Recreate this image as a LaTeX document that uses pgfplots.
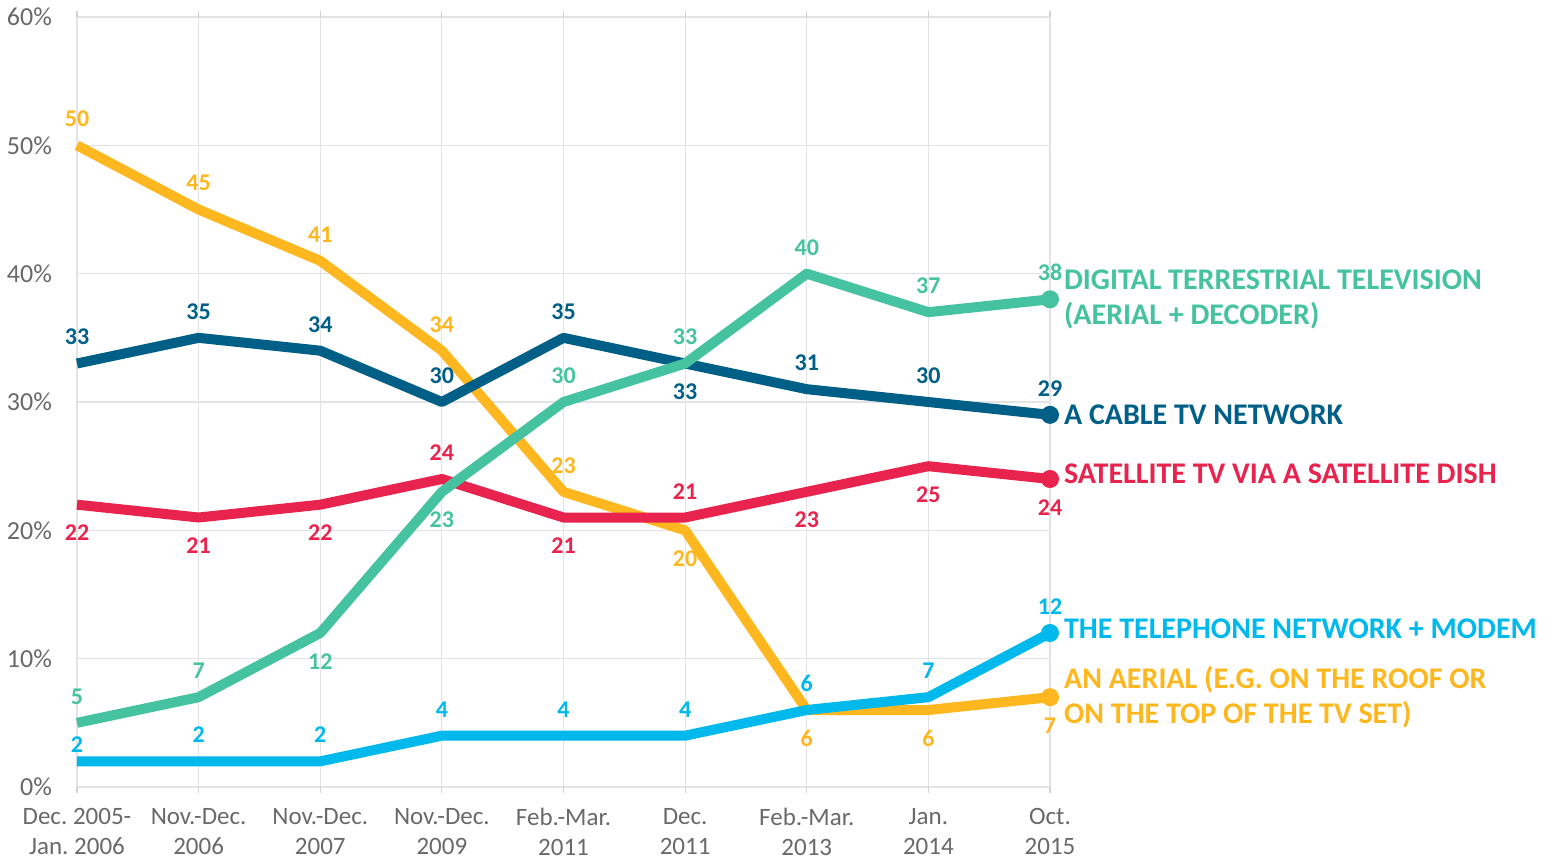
\documentclass[border=0pt]{standalone}
\usepackage{fontspec}
\setmainfont{Carlito}
\usepackage{pgfplots}
\pgfplotsset{compat=1.18}

\definecolor{aerial}{RGB}{254,183,30}
\definecolor{cable}{RGB}{0,95,135}
\definecolor{dtt}{RGB}{69,195,160}
\definecolor{sat}{RGB}{232,35,78}
\definecolor{tel}{RGB}{0,185,236}
\definecolor{tickgray}{RGB}{105,105,105}

\pgfplotsset{
  series/.style={line width=5pt, line join=round, mark=*, mark indices={9},
    mark size=4pt, mark options={solid, line width=1pt}},
  lbl/.style={draw=none, mark=none, nodes near coords,
    every node near coord/.append style={text=#1,
      font=\fontsize{12}{12}\selectfont\bfseries, inner sep=1pt}},
  lblup/.style={lbl=#1, every node near coord/.append style={anchor=south, yshift=8pt}},
  lbldn/.style={lbl=#1, every node near coord/.append style={anchor=north, yshift=-9pt}},
}
\tikzset{
  endlbl/.style={anchor=west, xshift=3.5pt, align=left, text=#1,
    font=\fontsize{15}{17.5}\selectfont\bfseries},
}

\begin{document}
\frenchspacing
\begin{tikzpicture}
% page frame in the reference proportions (axis box sits at the origin)
\useasboundingbox (-38.5pt,-36pt) rectangle (740.5pt,393.5pt);
\begin{axis}[
  scale only axis,
  width=486.5pt, height=385pt,
  xmin=0, xmax=8, ymin=0, ymax=60,
  clip=false,
  axis line style={draw=none},
  grid=major,
  major grid style={draw=gray!22, line width=0.6pt},
  xtick={0,...,8},
  xticklabels={{Dec.\ 2005-\\Jan.\ 2006},{Nov.-Dec.\\2006},{Nov.-Dec.\\2007},
    {Nov.-Dec.\\2009},{Feb.-Mar.\\2011},{Dec.\\2011},{Feb.-Mar.\\2013},
    {Jan.\\2014},{Oct.\\2015}},
  xticklabel style={align=center, text=tickgray,
    font=\fontsize{12.5}{15}\selectfont, yshift=-4pt},
  ytick={0,10,...,60},
  yticklabel={\pgfmathprintnumber{\tick}\%},
  yticklabel style={text=tickgray, font=\fontsize{13}{15}\selectfont, xshift=-6pt},
  xtick style={draw=gray!35, line width=0.6pt},
  ytick style={draw=none},
  tick align=outside,
  major tick length=3pt,
  /pgf/number format/assume math mode=true,
]
% An aerial
\addplot[aerial, series] coordinates {(0,50)(1,45)(2,41)(3,34)(4,23)(5,20)(6,6)(7,6)(8,7)};
% Telephone network + modem
\addplot[tel, series] coordinates {(0,2)(1,2)(2,2)(3,4)(4,4)(5,4)(6,6)(7,7)(8,12)};
% Satellite
\addplot[sat, series] coordinates {(0,22)(1,21)(2,22)(3,24)(4,21)(5,21)(6,23)(7,25)(8,24)};
% Cable
\addplot[cable, series] coordinates {(0,33)(1,35)(2,34)(3,30)(4,35)(5,33)(6,31)(7,30)(8,29)};
% Digital terrestrial
\addplot[dtt, series] coordinates {(0,5)(1,7)(2,12)(3,23)(4,30)(5,33)(6,40)(7,37)(8,38)};

% value labels
\addplot[lblup=aerial] coordinates {(0,50)(1,45)(2,41)(3,34)(4,23)};
\addplot[lbldn=aerial] coordinates {(5,20)(6,6)(7,6)(8,7)};
\addplot[lblup=tel] coordinates {(1,2)(2,2)(3,4)(4,4)(5,4)(6,6)(7,7)(8,12)};
\addplot[lbl=tel, every node near coord/.append style={anchor=south, yshift=3pt}] coordinates {(0,2)};
\addplot[lblup=sat] coordinates {(3,24)(5,21)};
\addplot[lbldn=sat] coordinates {(0,22)(1,21)(2,22)(4,21)(6,23)(7,25)(8,24)};
\addplot[lblup=cable] coordinates {(0,33)(1,35)(2,34)(3,30)(4,35)(6,31)(7,30)(8,29)};
\addplot[lbldn=cable] coordinates {(5,33)};
\addplot[lblup=dtt] coordinates {(0,5)(1,7)(4,30)(5,33)(6,40)(7,37)(8,38)};
\addplot[lbldn=dtt] coordinates {(2,12)(3,23)};

% series names
\node[endlbl=dtt] at (axis cs:8,38) {DIGITAL TERRESTRIAL TELEVISION\\(AERIAL + DECODER)};
\node[endlbl=cable] at (axis cs:8,29) {A CABLE TV NETWORK};
\node[endlbl=sat] at (axis cs:8,24.4) {SATELLITE TV VIA A SATELLITE DISH};
\node[endlbl=tel] at (axis cs:8,12.3) {THE TELEPHONE NETWORK + MODEM};
\node[endlbl=aerial] at (axis cs:8,7) {AN AERIAL (E.G. ON THE ROOF OR\\ON THE TOP OF THE TV SET)};
\end{axis}
\end{tikzpicture}
\end{document}
